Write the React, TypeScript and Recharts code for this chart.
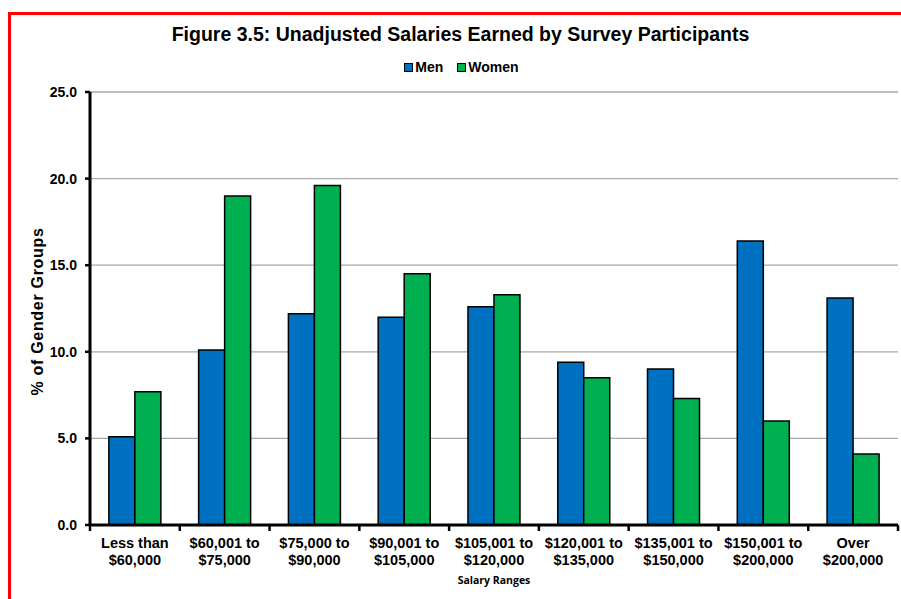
import { BarChart, Bar, XAxis, YAxis, CartesianGrid, Legend } from 'recharts';

const categories = [
  'Less than\n$60,000',
  '$60,001 to\n$75,000',
  '$75,000 to\n$90,000',
  '$90,001 to\n$105,000',
  '$105,001 to\n$120,000',
  '$120,001 to\n$135,000',
  '$135,001 to\n$150,000',
  '$150,001 to\n$200,000',
  'Over\n$200,000',
];
const men = [5.1, 10.1, 12.2, 12.0, 12.6, 9.4, 9.0, 16.4, 13.1];
const women = [7.7, 19.0, 19.6, 14.5, 13.3, 8.5, 7.3, 6.0, 4.1];
const yTicks = [0, 5, 10, 15, 20, 25];

const FONT = '"Liberation Sans", Arial, sans-serif';
const BLUE = '#0070C0';
const GREEN = '#00B050';

const data = categories.map((c, i) => ({ range: c, men: men[i], women: women[i] }));

// two-line category label plus a tick mark on the left edge of each band
const XTick = (props: any) => {
  const { x, y, payload, index } = props;
  const half = payload.offset ?? 808 / 18;
  const lines = String(payload.value).split('\n');
  return (
    <g>
      <line x1={x - half} x2={x - half} y1={y} y2={y + 6} stroke='#000' strokeWidth={2.5} />
      {index === categories.length - 1 && (
        <line x1={x + half} x2={x + half} y1={y} y2={y + 6} stroke='#000' strokeWidth={2.5} />
      )}
      <text
        x={x}
        y={y + 23}
        textAnchor='middle'
        fontFamily={FONT}
        fontSize={14.5}
        fontWeight='bold'
        fill='#000'
      >
        {lines.map((l, i) => (
          <tspan key={i} x={x} dy={i === 0 ? 0 : 17}>
            {l}
          </tspan>
        ))}
      </text>
    </g>
  );
};

const LegendContent = (props: any) => {
  const items = props.payload || [];
  return (
    <div
      style={{
        display: 'flex',
        justifyContent: 'center',
        alignItems: 'center',
        gap: 14,
        fontFamily: FONT,
        fontSize: 14,
        fontWeight: 'bold',
        lineHeight: '16px',
        color: '#000',
        paddingLeft: 22,
      }}
    >
      {items.map((it: any) => (
        <div key={it.value} style={{ display: 'flex', alignItems: 'center' }}>
          <span
            style={{
              width: 9,
              height: 9,
              boxSizing: 'border-box',
              border: '1px solid #000',
              background: it.color,
              marginRight: 2,
            }}
          />
          <span>{it.value}</span>
        </div>
      ))}
    </div>
  );
};

export default function App() {
  return (
    <div style={{ position: 'absolute', left: 0, top: 0, width: 901, height: 599, background: '#fff' }}>
      <div
        style={{
          position: 'absolute',
          left: 8,
          top: 12,
          width: 893,
          height: 587,
          borderLeft: '3px solid #ff0000',
          borderTop: '3px solid #ff0000',
          boxSizing: 'border-box',
        }}
      />
      <svg width={901} height={60} style={{ position: 'absolute', left: 0, top: 0 }}>
        <text
          x={460.5}
          y={40.5}
          textAnchor='middle'
          fontFamily={FONT}
          fontSize={19.5}
          fontWeight='bold'
          fill='#000'
        >
          Figure 3.5: Unadjusted Salaries Earned by Survey Participants
        </text>
      </svg>
      <div style={{ position: 'absolute', left: 0, top: 0 }}>
        <BarChart
          width={901}
          height={599}
          data={data}
          margin={{ top: 92, right: 3, bottom: 0, left: 0 }}
          barCategoryGap='21%'
          barGap={0}
        >
          <CartesianGrid vertical={false} stroke='#a8a8a8' strokeWidth={1.3} />
          <XAxis
            dataKey='range'
            height={74}
            interval={0}
            tickSize={0}
            tickMargin={0}
            tickLine={false}
            axisLine={{ stroke: '#000', strokeWidth: 3 }}
            tick={(p: any) => <XTick {...p} />}
            label={{
              content: (lp: any) => {
                const vb = lp.viewBox || { x: 90, y: 525, width: 808 };
                return (
                  <text
                    x={vb.x + vb.width / 2}
                    y={vb.y + 59}
                    textAnchor='middle'
                    fontFamily='"Open Sans", sans-serif'
                    fontSize={10.5}
                    fontWeight={700}
                    fill='#000'
                  >
                    Salary Ranges
                  </text>
                );
              },
            }}
          />
          <YAxis
            width={90}
            domain={[0, 25]}
            ticks={yTicks}
            interval={0}
            tickFormatter={(v: number) => v.toFixed(1)}
            tickSize={5}
            tickMargin={8}
            tickLine={{ stroke: '#000', strokeWidth: 2.5 }}
            axisLine={{ stroke: '#000', strokeWidth: 3 }}
            tick={{ fill: '#000', fontSize: 14, fontWeight: 'bold', fontFamily: FONT }}
            label={{
              content: (lp: any) => {
                const vb = lp.viewBox || { x: 0, y: 92, width: 90, height: 433 };
                const cx = 37;
                const cy = vb.y + vb.height / 2 + 3;
                return (
                  <text
                    x={cx}
                    y={cy}
                    transform={`rotate(-90, ${cx}, ${cy})`}
                    textAnchor='middle'
                    dominantBaseline='central'
                    fontFamily={FONT}
                    fontSize={16}
                    fontWeight='bold'
                    letterSpacing={0.7}
                    fill='#000'
                  >
                    % of Gender Groups
                  </text>
                );
              },
            }}
          />
          <Legend
            layout='vertical'
            align='center'
            verticalAlign='middle'
            wrapperStyle={{ top: 59, left: 0, width: 901, height: 16 }}
            content={(p: any) => <LegendContent {...p} />}
          />
          <Bar dataKey='men' name='Men' fill={BLUE} stroke='#000' strokeWidth={1.5} isAnimationActive={false} />
          <Bar dataKey='women' name='Women' fill={GREEN} stroke='#000' strokeWidth={1.5} isAnimationActive={false} />
        </BarChart>
      </div>
    </div>
  );
}
